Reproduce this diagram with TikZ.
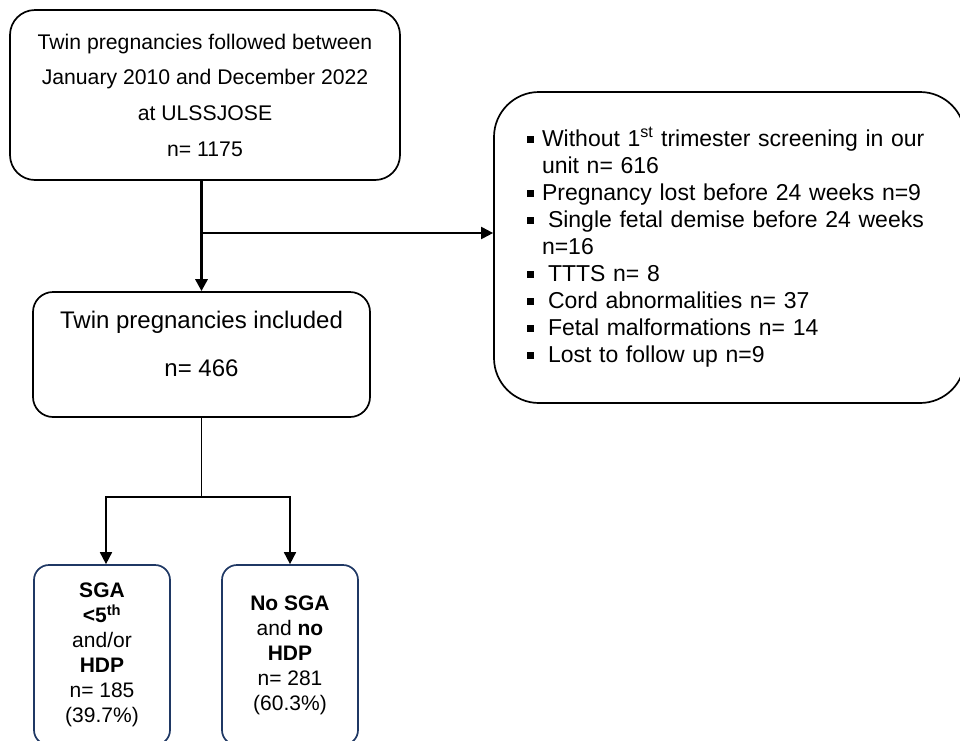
\documentclass[tikz,border=0pt]{standalone}
\usepackage{fontspec}
\setmainfont{Liberation Sans}
\usetikzlibrary{arrows.meta}
\definecolor{navy}{RGB}{31,56,100}
\tikzstyle{bigbox} = [rectangle, rounded corners=25pt, draw=black, line width=1.7pt, align=center, inner sep=0pt]
\tikzstyle{smallbox} = [rectangle, rounded corners=15pt, draw=navy, line width=1.7pt, align=center, inner sep=0pt, minimum width=136pt, minimum height=180pt, font=\fontsize{21}{25}\selectfont]
\tikzstyle{arrow} = [->, >={Triangle[length=12pt, width=12pt]}]
\newcommand{\sq}{\makebox[15pt][l]{\rule[4pt]{6.5pt}{6.5pt}}}
\newcommand{\gap}{\hspace*{15pt}}

\begin{document}
\begin{tikzpicture}[x=1pt, y=-1pt]
		\useasboundingbox (0,0) rectangle (960,740);
		\node (ulss) [bigbox, minimum width=390pt, minimum height=170pt, font=\fontsize{21.2}{35.7}\selectfont] at (205,95) {Twin pregnancies followed between\\January 2010 and December 2022\\at ULSSJOSE\\n= 1175};
		\node (excl) [bigbox, rounded corners=45pt, minimum width=471pt, minimum height=311pt, text width=405pt, align=left, font=\fontsize{23}{27}\selectfont] at (729.5,247.5) {\sq Without 1\textsuperscript{st} trimester screening in our\\\gap unit n= 616\\\sq Pregnancy lost before 24 weeks n=9\\\sq\hspace*{6pt}Single fetal demise before 24 weeks\\\gap n=16\\\sq\hspace*{6pt}TTTS n= 8\\\sq\hspace*{6pt}Cord abnormalities n= 37\\\sq\hspace*{6pt}Fetal malformations n= 14\\\sq\hspace*{6pt}Lost to follow up n=9};
		\node (incl) [bigbox, rounded corners=20pt, minimum width=337pt, minimum height=125pt, text depth=21pt, font=\fontsize{24}{48}\selectfont] at (201.5,354.5) {Twin pregnancies included\\n= 466};
		\node (sga) [smallbox] at (102,655) {\textbf{SGA}\\\textbf{<5\textsuperscript{th}}\\and/or\\\textbf{HDP}\\n= 185\\(39.7\%)};
		\node (nosga) [smallbox] at (290,655) {\textbf{No SGA}\\and \textbf{no}\\\textbf{HDP}\\n= 281\\(60.3\%)};
		\coordinate (branch) at (201.5,233);
		\coordinate (fork) at (201.5,497);
		\draw [arrow, line width=3pt] (ulss.south -| incl.north) -- (incl.north);
		\draw [arrow, line width=2pt] (branch) -- (excl.west |- branch);
		\draw [line width=1.7pt] (incl.south) -- (fork);
		\draw [arrow, line width=1.7pt] (fork) -| ([xshift=4pt]sga.north);
		\draw [arrow, line width=1.7pt] (fork) -| (nosga.north);
	\end{tikzpicture}
\end{document}
